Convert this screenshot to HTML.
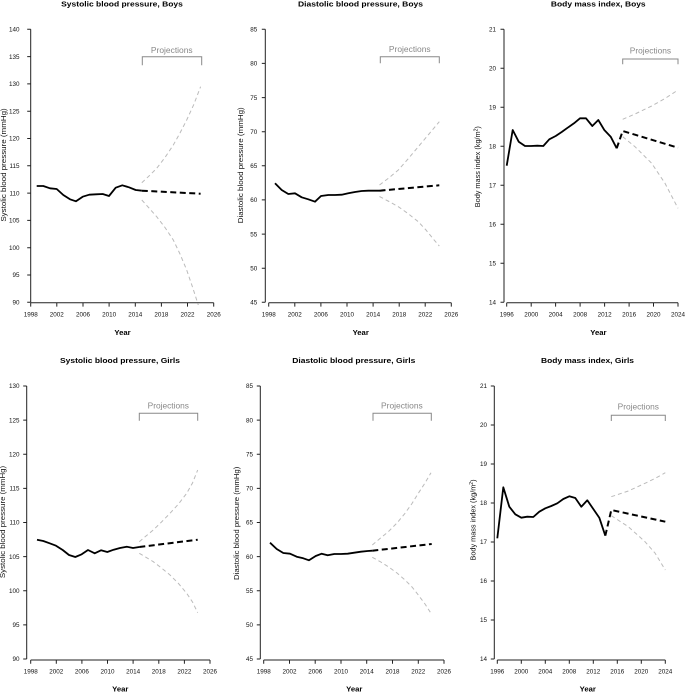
<!DOCTYPE html>
<html><head><meta charset="utf-8"><style>
html,body{margin:0;padding:0;background:#fff;}
svg{display:block;}
text{font-family:"Liberation Sans",Arial,sans-serif;}
.t{font-size:7.7px;font-weight:bold;fill:#000;}
.tk{font-size:6.3px;fill:#111;}
.yl{font-size:7.3px;fill:#111;}
.pr{font-size:8.4px;fill:#888;}
.ax{stroke:#222;stroke-width:1;fill:none;}
.br{stroke:#888;stroke-width:1;fill:none;}
.s{stroke:#000;stroke-width:1.8;fill:none;stroke-linejoin:round;}
.d{stroke:#000;stroke-width:2;fill:none;stroke-dasharray:6 3.5;}
.g{stroke:#bbb;stroke-width:1;fill:none;stroke-dasharray:4 3;}
</style></head><body>
<svg width="685" height="692" viewBox="0 0 685 692" xmlns="http://www.w3.org/2000/svg">

<!-- ===== Panel 1: SBP Boys ===== -->
<text class="t" x="122" y="6.5" text-anchor="middle" textLength="121.7" lengthAdjust="spacingAndGlyphs">Systolic blood pressure, Boys</text>
<path class="ax" d="M30.7,29.3V302.3 M30.7,29.3h-3.5 M30.7,56.6h-3.5 M30.7,83.9h-3.5 M30.7,111.2h-3.5 M30.7,138.5h-3.5 M30.7,165.8h-3.5 M30.7,193.1h-3.5 M30.7,220.4h-3.5 M30.7,247.7h-3.5 M30.7,275h-3.5 M30.7,302.3h-3.5"/>
<g class="tk" text-anchor="end">
<text x="19.5" y="31.5">140</text><text x="19.5" y="58.8">135</text><text x="19.5" y="86.1">130</text><text x="19.5" y="113.4">125</text><text x="19.5" y="140.7">120</text><text x="19.5" y="168">115</text><text x="19.5" y="195.3">110</text><text x="19.5" y="222.6">105</text><text x="19.5" y="249.9">100</text><text x="19.5" y="277.2">95</text><text x="19.5" y="304.5">90</text>
</g>
<path class="ax" d="M30.7,302.8H213.7 M30.7,302.8v3.8 M56.8,302.8v3.8 M83,302.8v3.8 M109.1,302.8v3.8 M135.3,302.8v3.8 M161.4,302.8v3.8 M187.5,302.8v3.8 M213.7,302.8v3.8"/>
<g class="tk" text-anchor="middle">
<text x="30.7" y="316.5">1998</text><text x="56.8" y="316.5">2002</text><text x="83" y="316.5">2006</text><text x="109.1" y="316.5">2010</text><text x="135.3" y="316.5">2014</text><text x="161.4" y="316.5">2018</text><text x="187.5" y="316.5">2022</text><text x="213.7" y="316.5">2026</text>
</g>
<text class="t" x="122.5" y="335" text-anchor="middle">Year</text>
<text class="yl" transform="translate(5.8,165) rotate(-90)" text-anchor="middle" textLength="113.3" lengthAdjust="spacingAndGlyphs">Systolic blood pressure (mmHg)</text>
<path class="br" d="M142.3,65.3V56.7H201.7V65.3"/>
<text class="pr" x="171.8" y="53" text-anchor="middle" textLength="41.7" lengthAdjust="spacingAndGlyphs">Projections</text>
<path class="s" d="M36.7,186 L43.3,186 L50,188.3 L56.7,189 L63.3,195 L70,199.3 L76,201.3 L82.7,196.7 L89.3,194.7 L96,194.3 L102.7,194 L109,196 L115.7,187.7 L122.3,185.3 L129,187.3 L135.7,190 L141.8,190.7"/>
<path class="d" d="M141.8,190.7 L200.6,193.7"/>
<path class="g" d="M141.8,182.7 L149,176 L156.7,168.3 L165,157.5 L173.3,145 L180,133 L186.7,120 L194,104 L200.6,86.7"/>
<path class="g" d="M141.8,200 L149,208 L156.7,216.7 L165,227.5 L173.3,240 L180,254 L186.7,270 L192.5,287 L198.3,305"/>

<!-- ===== Panel 2: DBP Boys ===== -->
<text class="t" x="360.5" y="6.5" text-anchor="middle" textLength="125" lengthAdjust="spacingAndGlyphs">Diastolic blood pressure, Boys</text>
<path class="ax" d="M265.3,29.3V302.3 M265.3,29.3h-3.5 M265.3,63.4h-3.5 M265.3,97.6h-3.5 M265.3,131.7h-3.5 M265.3,165.8h-3.5 M265.3,199.9h-3.5 M265.3,234.1h-3.5 M265.3,268.2h-3.5 M265.3,302.3h-3.5"/>
<g class="tk" text-anchor="end">
<text x="257.3" y="31.5">85</text><text x="257.3" y="65.6">80</text><text x="257.3" y="99.8">75</text><text x="257.3" y="133.9">70</text><text x="257.3" y="168">65</text><text x="257.3" y="202.1">60</text><text x="257.3" y="236.3">55</text><text x="257.3" y="270.4">50</text><text x="257.3" y="304.5">45</text>
</g>
<path class="ax" d="M268.7,302.8H451.3 M268.7,302.8v3.8 M294.8,302.8v3.8 M320.9,302.8v3.8 M347,302.8v3.8 M373.1,302.8v3.8 M399.2,302.8v3.8 M425.2,302.8v3.8 M451.3,302.8v3.8"/>
<g class="tk" text-anchor="middle">
<text x="268.7" y="316.5">1998</text><text x="294.8" y="316.5">2002</text><text x="320.9" y="316.5">2006</text><text x="347" y="316.5">2010</text><text x="373.1" y="316.5">2014</text><text x="399.2" y="316.5">2018</text><text x="425.2" y="316.5">2022</text><text x="451.3" y="316.5">2026</text>
</g>
<text class="t" x="360.7" y="335" text-anchor="middle">Year</text>
<text class="yl" transform="translate(243.2,165.3) rotate(-90)" text-anchor="middle" textLength="116" lengthAdjust="spacingAndGlyphs">Diastolic blood pressure (mmHg)</text>
<path class="br" d="M380.3,63.3V56.7H439.3V63.3"/>
<text class="pr" x="409.8" y="52" text-anchor="middle" textLength="41.7" lengthAdjust="spacingAndGlyphs">Projections</text>
<path class="s" d="M275,183.3 L281.7,190 L288.3,194 L295,193.3 L301.7,197.3 L308.3,199.3 L315,201.7 L321,196 L328.3,195 L335,195 L341.7,194.7 L348.3,193.3 L355,192 L361.7,191 L368.3,190.7 L379.5,190.7"/>
<path class="d" d="M379.5,190.7 L439.3,185.3"/>
<path class="g" d="M379.5,185 L389,177.8 L398.3,170 L408,159 L418.3,146.7 L429,134 L439.3,121.7"/>
<path class="g" d="M379.5,196.5 L389,201.5 L398.3,206.7 L408,213.5 L418.3,221.7 L426,230 L433.3,239 L439.3,246"/>

<!-- ===== Panel 3: BMI Boys ===== -->
<text class="t" x="598.3" y="6.5" text-anchor="middle" textLength="94.7" lengthAdjust="spacingAndGlyphs">Body mass index, Boys</text>
<path class="ax" d="M504,29.3V302.3 M504,29.3h-3.5 M504,68.3h-3.5 M504,107.3h-3.5 M504,146.3h-3.5 M504,185.3h-3.5 M504,224.3h-3.5 M504,263.3h-3.5 M504,302.3h-3.5"/>
<g class="tk" text-anchor="end">
<text x="496" y="31.5">21</text><text x="496" y="70.5">20</text><text x="496" y="109.5">19</text><text x="496" y="148.5">18</text><text x="496" y="187.5">17</text><text x="496" y="226.5">16</text><text x="496" y="265.5">15</text><text x="496" y="304.5">14</text>
</g>
<path class="ax" d="M506.7,302.8H678 M506.7,302.8v3.8 M531.2,302.8v3.8 M555.6,302.8v3.8 M580.1,302.8v3.8 M604.6,302.8v3.8 M629.1,302.8v3.8 M653.5,302.8v3.8 M678,302.8v3.8"/>
<g class="tk" text-anchor="middle">
<text x="506.7" y="316.5">1996</text><text x="531.2" y="316.5">2000</text><text x="555.6" y="316.5">2004</text><text x="580.1" y="316.5">2008</text><text x="604.6" y="316.5">2012</text><text x="629.1" y="316.5">2016</text><text x="653.5" y="316.5">2020</text><text x="678" y="316.5">2024</text>
</g>
<text class="t" x="598.4" y="335" text-anchor="middle">Year</text>
<text class="yl" transform="translate(480,166.7) rotate(-90)" text-anchor="middle">Body mass index (kg/m<tspan font-size="5" dy="-2.6">2</tspan><tspan dy="2.6">)</tspan></text>
<path class="br" d="M622.7,64.3V59H678V64.3"/>
<text class="pr" x="650.4" y="53.5" text-anchor="middle" textLength="41.3" lengthAdjust="spacingAndGlyphs">Projections</text>
<path class="s" d="M506.7,165.7 L512.7,130 L518.7,141.7 L525,146 L531,146 L537.3,145.7 L543.3,146 L549.3,139.3 L555.7,136 L561.7,132 L567.7,127.7 L574,123.3 L580,118.3 L586,118.3 L592.3,126 L598.3,120 L604.3,130 L610.7,136.7 L616.7,148.3"/>
<path class="d" d="M616.7,148.3 L622.7,131 L678,147.7"/>
<path class="g" d="M622.7,119.3 L635,114 L651.7,106 L665,98.5 L678,90"/>
<path class="g" d="M622.7,136.7 L635,146.7 L651.7,163.3 L665,183.3 L678,208.3"/>

<!-- ===== Panel 4: SBP Girls ===== -->
<text class="t" x="120" y="362.8" text-anchor="middle" textLength="120" lengthAdjust="spacingAndGlyphs">Systolic blood pressure, Girls</text>
<path class="ax" d="M26.7,386V659 M26.7,386h-3.5 M26.7,420.1h-3.5 M26.7,454.3h-3.5 M26.7,488.4h-3.5 M26.7,522.5h-3.5 M26.7,556.6h-3.5 M26.7,590.8h-3.5 M26.7,624.9h-3.5 M26.7,659h-3.5"/>
<g class="tk" text-anchor="end">
<text x="19.5" y="388.2">130</text><text x="19.5" y="422.3">125</text><text x="19.5" y="456.5">120</text><text x="19.5" y="490.6">115</text><text x="19.5" y="524.7">110</text><text x="19.5" y="558.8">105</text><text x="19.5" y="593">100</text><text x="19.5" y="627.1">95</text><text x="19.5" y="661.2">90</text>
</g>
<path class="ax" d="M30.7,660H210 M30.7,660v3.8 M56.3,660v3.8 M81.9,660v3.8 M107.5,660v3.8 M133.1,660v3.8 M158.8,660v3.8 M184.4,660v3.8 M210,660v3.8"/>
<g class="tk" text-anchor="middle">
<text x="30.7" y="673.7">1998</text><text x="56.3" y="673.7">2002</text><text x="81.9" y="673.7">2006</text><text x="107.5" y="673.7">2010</text><text x="133.1" y="673.7">2014</text><text x="158.8" y="673.7">2018</text><text x="184.4" y="673.7">2022</text><text x="210" y="673.7">2026</text>
</g>
<text class="t" x="120.3" y="691.5" text-anchor="middle">Year</text>
<text class="yl" transform="translate(5.2,522) rotate(-90)" text-anchor="middle" textLength="112.3" lengthAdjust="spacingAndGlyphs">Systolic blood pressure (mmHg)</text>
<path class="br" d="M139.3,420.7V413.3H197.7V420.7"/>
<text class="pr" x="168.3" y="408.5" text-anchor="middle" textLength="41.3" lengthAdjust="spacingAndGlyphs">Projections</text>
<path class="s" d="M37,539.7 L43.3,541 L49.7,543.3 L56,545.7 L62.7,550 L69,555 L75.3,557 L81.7,554.3 L88,550 L94.7,553.3 L101,550.3 L107.3,552 L113.7,549.7 L120,548 L126.7,546.7 L133,548 L139.3,547"/>
<path class="d" d="M139.3,547 L197.7,539.7"/>
<path class="g" d="M139.3,541.7 L146,536 L153.3,530 L161.5,522 L170,513.3 L178.5,504 L186.7,493.3 L192.5,483 L197.7,470"/>
<path class="g" d="M139.3,553.3 L146,557.3 L153.3,561.7 L161.5,568 L170,575 L178.5,583.5 L186.7,593.3 L192.5,602 L197.7,612.7"/>

<!-- ===== Panel 5: DBP Girls ===== -->
<text class="t" x="353.8" y="362.8" text-anchor="middle" textLength="123" lengthAdjust="spacingAndGlyphs">Diastolic blood pressure, Girls</text>
<path class="ax" d="M260.3,386V659 M260.3,386h-3.5 M260.3,420.1h-3.5 M260.3,454.3h-3.5 M260.3,488.4h-3.5 M260.3,522.5h-3.5 M260.3,556.6h-3.5 M260.3,590.8h-3.5 M260.3,624.9h-3.5 M260.3,659h-3.5"/>
<g class="tk" text-anchor="end">
<text x="253" y="388.2">85</text><text x="253" y="422.3">80</text><text x="253" y="456.5">75</text><text x="253" y="490.6">70</text><text x="253" y="524.7">65</text><text x="253" y="558.8">60</text><text x="253" y="593">55</text><text x="253" y="627.1">50</text><text x="253" y="661.2">45</text>
</g>
<path class="ax" d="M263.7,660H444 M263.7,660v3.8 M289.5,660v3.8 M315.2,660v3.8 M341,660v3.8 M366.7,660v3.8 M392.5,660v3.8 M418.3,660v3.8 M444,660v3.8"/>
<g class="tk" text-anchor="middle">
<text x="263.7" y="673.7">1998</text><text x="289.5" y="673.7">2002</text><text x="315.2" y="673.7">2006</text><text x="341" y="673.7">2010</text><text x="366.7" y="673.7">2014</text><text x="392.5" y="673.7">2018</text><text x="418.3" y="673.7">2022</text><text x="444" y="673.7">2026</text>
</g>
<text class="t" x="354.3" y="691.5" text-anchor="middle">Year</text>
<text class="yl" transform="translate(239.2,523.3) rotate(-90)" text-anchor="middle" textLength="113.3" lengthAdjust="spacingAndGlyphs">Diastolic blood pressure (mmHg)</text>
<path class="br" d="M373,420.7V413.3H431.3V420.7"/>
<text class="pr" x="401.9" y="408.5" text-anchor="middle" textLength="41.7" lengthAdjust="spacingAndGlyphs">Projections</text>
<path class="s" d="M270,542.7 L276.7,549 L283.3,553 L290,553.7 L296.7,556.7 L303.3,558.3 L309,560.3 L315.7,556 L321.7,553.7 L327.7,555.3 L334.3,554 L341,554 L347.7,553.7 L354.3,552.7 L361,551.7 L367.7,551 L372.3,550.7"/>
<path class="d" d="M372.3,550.7 L431.7,544"/>
<path class="g" d="M372.3,545 L380,538.5 L388.3,531.7 L397,523 L405,513.3 L412,503.5 L418.3,493.3 L425,483 L431,472.7"/>
<path class="g" d="M372.3,557.3 L380,561.5 L388.3,566.7 L397,573 L405,580 L412,587 L418.3,595 L425,604 L431,613.3"/>

<!-- ===== Panel 6: BMI Girls ===== -->
<text class="t" x="587.5" y="362.8" text-anchor="middle" textLength="93" lengthAdjust="spacingAndGlyphs">Body mass index, Girls</text>
<path class="ax" d="M494.3,386V659 M494.3,386h-3.5 M494.3,425h-3.5 M494.3,464h-3.5 M494.3,503h-3.5 M494.3,542h-3.5 M494.3,581h-3.5 M494.3,620h-3.5 M494.3,659h-3.5"/>
<g class="tk" text-anchor="end">
<text x="487" y="388.2">21</text><text x="487" y="427.2">20</text><text x="487" y="466.2">19</text><text x="487" y="505.2">18</text><text x="487" y="544.2">17</text><text x="487" y="583.2">16</text><text x="487" y="622.2">15</text><text x="487" y="661.2">14</text>
</g>
<path class="ax" d="M497.3,660H665.3 M497.3,660v3.8 M521.3,660v3.8 M545.3,660v3.8 M569.3,660v3.8 M593.3,660v3.8 M617.3,660v3.8 M641.3,660v3.8 M665.3,660v3.8"/>
<g class="tk" text-anchor="middle">
<text x="497.3" y="673.7">1996</text><text x="521.3" y="673.7">2000</text><text x="545.3" y="673.7">2004</text><text x="569.3" y="673.7">2008</text><text x="593.3" y="673.7">2012</text><text x="617.3" y="673.7">2016</text><text x="641.3" y="673.7">2020</text><text x="665.3" y="673.7">2024</text>
</g>
<text class="t" x="587.8" y="691.5" text-anchor="middle">Year</text>
<text class="yl" transform="translate(475.5,520) rotate(-90)" text-anchor="middle">Body mass index (kg/m<tspan font-size="5" dy="-2.6">2</tspan><tspan dy="2.6">)</tspan></text>
<path class="br" d="M611.3,421V415.3H665.3V421"/>
<text class="pr" x="638.3" y="409.5" text-anchor="middle" textLength="41.3" lengthAdjust="spacingAndGlyphs">Projections</text>
<path class="s" d="M497.3,538.3 L503.3,487.3 L509.3,506.7 L515.3,514.3 L521.3,517.7 L527.3,516.7 L533.3,517 L539.3,511.7 L545.3,508.3 L551.3,506 L557.3,503.3 L563.3,499 L569.3,496.3 L575.3,498 L581.3,506.7 L587.3,500.3 L593.3,509 L599.3,517.7 L605.3,535.7"/>
<path class="d" d="M605.3,535.7 L611.3,510 L665.3,521.7"/>
<path class="g" d="M611.3,496.7 L628.3,491 L645,483.3 L655,478.5 L665.3,472.7"/>
<path class="g" d="M611.3,515.7 L628.3,526.7 L645,541.7 L655,553 L665.3,570"/>

</svg>
</body></html>
